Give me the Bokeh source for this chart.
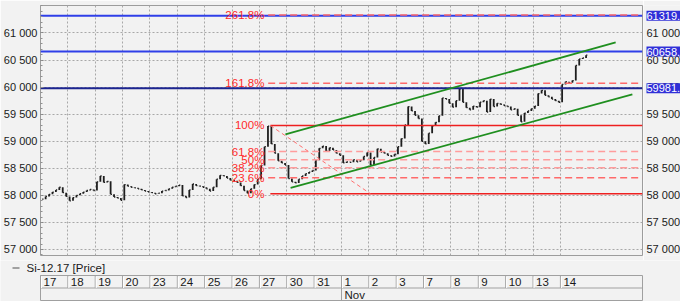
from bokeh.plotting import figure
from bokeh.models import Range1d, FixedTicker
from bokeh.layouts import column, row
from bokeh.embed import file_html
from bokeh.resources import INLINE
from bokeh.core.properties import value

# ---------------- data ----------------
day_labels = ["17", "18", "19", "20", "23", "24", "25", "26", "27", "30",
              "31", "1", "2", "3", "7", "8", "9", "10", "13", "14"]
month_labels = ["Nov"]
month_start_index = [11]

# closing prices of the intraday bars, one list per trading day
closes_by_day = [
    [57930, 57980, 58020, 58060, 58100, 58150, 58050, 57980],   # 17
    [57900, 57960, 58000, 58030, 58060, 58090, 58110, 58090],   # 18
    [58250, 58360, 58240, 58260, 58020, 57970, 57950, 57910],   # 19
    [58200, 58170, 58150, 58140, 58120, 58100, 58080, 58060],   # 20
    [58050, 58030, 58040, 58080, 58090, 58120, 58150, 58170],   # 23
    [58190, 57990, 57960, 58100, 58210, 58180, 58170, 58150],   # 24
    [58120, 58080, 58150, 58300, 58370, 58360, 58320, 58280],   # 25
    [58270, 58240, 58180, 58090, 58040, 58120, 58200, 58300],   # 26
    [58550, 58900, 59280, 58950, 58780, 58640, 58600, 58560],   # 27
    [58310, 58250, 58230, 58300, 58360, 58400, 58430, 58460],   # 30
    [58650, 58870, 58910, 58820, 58880, 58840, 58780, 58740],   # 31
    [58600, 58620, 58610, 58660, 58620, 58650, 58720, 58790],   # 1
    [58560, 58700, 58860, 58800, 58780, 58740, 58720, 58760],   # 2
    [58900, 59050, 59300, 59640, 59560, 59480, 59420, 59000],   # 3
    [58950, 59150, 59280, 59350, 59470, 59800, 59780, 59700],   # 7
    [59630, 59750, 59970, 59720, 59620, 59580, 59650, 59630],   # 8
    [59720, 59750, 59540, 59780, 59640, 59700, 59680, 59660],   # 9
    [59640, 59580, 59600, 59480, 59360, 59520, 59560, 59600],   # 10
    [59650, 59880, 59940, 59850, 59820, 59780, 59750, 59720],   # 13
    [60050, 60100, 60080, 60120, 60400, 60520, 60540, 60590],   # 14
]

y_ticks = [57000, 57500, 58000, 58500, 59000, 59500, 60000, 60500, 61000]

# horizontal price levels (blue lines with marker on the right scale)
hline_prices = [61319, 60658, 59981]
hline_marker_texts = ["61319.", "60658.", "59981."]

# Fibonacci retracement drawn from the swing high to the swing low
fib_low = 58029
fib_high = 59291
fib_ratios = [0.0, 0.236, 0.382, 0.5, 0.618, 1.0, 1.618, 2.618]
fib_texts = ["0%", "23.6%", "38.2%", "50%", "61.8%", "100%", "161.8%", "261.8%"]
fib_anchor_days = [8.40, 12.06]          # day position of high / low anchors

# trend channel (day position, price)
channel_upper_days = [8.95, 21.02]
channel_upper_prices = [59125, 60825]
channel_lower_days = [9.14, 21.63]
channel_lower_prices = [58140, 59864]

x_days_total = 22
y_min, y_max = 56889, 61508

# ---------------- styling ----------------
BG = "#f2f2f2"
FONT = "Liberation Sans"
W = 680
LEFT, RIGHT = 40, 38
MAIN_W = W - RIGHT + 1          # frame ends at x = 642 (1px border inside)
ppd = (MAIN_W - 1 - LEFT) / x_days_total
tick_labels = [f"{t:,}".replace(",", " ") for t in y_ticks]

main = figure(width=MAIN_W, height=260, x_range=Range1d(0, x_days_total),
              y_range=Range1d(y_min, y_max), x_axis_location=None,
              y_axis_location="left", toolbar_location=None,
              output_backend="svg", min_border_left=LEFT,
              min_border_right=1, min_border_top=5, min_border_bottom=5,
              background_fill_color=BG, border_fill_color=BG,
              outline_line_color="#9c9c9c")

minor = list(range(56900, 61600, 100))
yax = main.yaxis[0]
yax.ticker = FixedTicker(ticks=y_ticks, minor_ticks=minor)
yax.major_label_overrides = dict(zip(y_ticks, tick_labels))
yax.axis_line_color = None
yax.major_tick_in = 3
yax.major_tick_out = 0
yax.minor_tick_in = 2
yax.minor_tick_out = 0
yax.major_tick_line_color = "#808080"
yax.minor_tick_line_color = "#909090"
yax.major_label_standoff = 3
yax.major_label_text_font = FONT
yax.major_label_text_font_size = "11px"
yax.major_label_text_color = "#1a1a1a"

main.ygrid.grid_line_color = "#a8a8a8"
main.ygrid.grid_line_dash = "2 2"
main.xgrid[0].ticker = FixedTicker(ticks=list(range(1, len(day_labels))))
main.xgrid.grid_line_color = "#a8a8a8"
main.xgrid.grid_line_dash = "2 2"

# ---------------- price bars ----------------
bx, blo, bhi, bc = [], [], [], []
prev = closes_by_day[0][0]
for d, closes in enumerate(closes_by_day):
    n = len(closes)
    for i, c in enumerate(closes):
        x = d + (i + 0.5) / n
        bx.append(x)
        blo.append(min(prev, c))
        bhi.append(max(prev, c))
        bc.append(c)
        prev = c
tick = 1.3 / ppd
main.segment(x0=bx, y0=blo, x1=bx, y1=bhi, line_color="#1e1e1e", line_width=1.8)
main.segment(x0=bx, y0=bc, x1=[v + tick for v in bx], y1=bc,
             line_color="#1e1e1e", line_width=1.3)

# ---------------- horizontal levels ----------------
hcolors = ["#2f3fe8", "#2f3fe8", "#1c2590"]
for pr, col in zip(hline_prices, hcolors):
    main.line(x=[0, x_days_total], y=[pr, pr], line_color=col, line_width=2)

# ---------------- Fibonacci ----------------
fib_prices = [fib_low + r * (fib_high - fib_low) for r in fib_ratios]
for r, pr in zip(fib_ratios, fib_prices):
    if r in (0.0, 1.0):
        main.line(x=[fib_anchor_days[0], x_days_total], y=[pr, pr],
                  line_color="#ee2020", line_width=1.6)
    else:
        col = "#ff6a6a" if r in (0.236, 1.618, 2.618) else "#ff9c9c"
        main.line(x=[fib_anchor_days[0] - 0.08, x_days_total], y=[pr, pr],
                  line_color=col, line_width=1.5, line_dash="7 4")
main.line(x=fib_anchor_days, y=[fib_high, fib_low], line_color="#ff7070",
          line_width=1, line_dash="4 3")
main.text(x=[fib_anchor_days[0]] * len(fib_prices), y=fib_prices, text=fib_texts,
          text_align="right", text_baseline="middle", x_offset=-6,
          text_color="#ff2a2a", text_font=value(FONT), text_font_size="11.5px")

# ---------------- channel ----------------
main.line(x=channel_upper_days, y=channel_upper_prices, line_color="#1f8f1f", line_width=1.8)
main.line(x=channel_lower_days, y=channel_lower_prices, line_color="#1f8f1f", line_width=1.8)

# ---------------- right price scale (shares the y scale) ----------------
RW = W - MAIN_W
scale = figure(width=RW, height=260, x_range=Range1d(0, RW), y_range=main.y_range,
               toolbar_location=None, output_backend="svg", min_border_left=0,
               min_border_right=0, min_border_top=5, min_border_bottom=5,
               background_fill_color=BG, border_fill_color=BG, outline_line_color=None)
scale.axis.visible = False
scale.grid.visible = False
scale.text(x=[3] * len(y_ticks), y=y_ticks, text=tick_labels, text_baseline="middle",
           text_font=value(FONT), text_font_size="11px", text_color="#1a1a1a")
scale.rect(x=[RW / 2 + 1.5] * len(hline_prices), y=hline_prices, width=RW - 3,
           height=10, height_units="screen", fill_color="#3030d8", line_color=None)
scale.text(x=[3] * len(hline_prices), y=hline_prices, text=hline_marker_texts,
           text_baseline="middle", text_font=value(FONT), text_font_size="11px",
           text_color="white")

# ---------------- date strip below ----------------
sx0 = -LEFT / ppd
sx1 = x_days_total + (W - LEFT - x_days_total * ppd) / ppd
strip = figure(width=W, height=41, x_range=Range1d(sx0, sx1), y_range=Range1d(41, 0),
               toolbar_location=None, output_backend="svg", min_border=0,
               background_fill_color=BG, border_fill_color=BG, outline_line_color=None)
strip.axis.visible = False
strip.grid.visible = False

GRAY = "#a0a0a0"
row_top, row_mid, row_bot = 15, 27.5, 40
strip.segment(x0=[0, 0, 0], y0=[row_top, row_mid, row_bot],
              x1=[x_days_total] * 3, y1=[row_top, row_mid, row_bot],
              line_color=GRAY, line_width=1)
day_pos = list(range(len(day_labels)))
strip.segment(x0=day_pos, y0=[row_top] * len(day_pos), x1=day_pos,
              y1=[row_mid] * len(day_pos), line_color=GRAY, line_width=1)
px1 = 1 / ppd
strip.segment(x0=[d + px1 for d in day_pos], y0=[row_top + 1] * len(day_pos),
              x1=[d + px1 for d in day_pos], y1=[row_mid] * len(day_pos),
              line_color="#ffffff", line_width=1)
strip.segment(x0=[0, x_days_total] + month_start_index, y0=[row_top, row_top] + [row_mid] * len(month_start_index),
              x1=[0, x_days_total] + month_start_index, y1=[row_bot] * (2 + len(month_start_index)),
              line_color=GRAY, line_width=1)
strip.text(x=day_pos, y=[(row_top + row_mid) / 2 + 0.5] * len(day_pos), text=day_labels,
           x_offset=3, text_baseline="middle", text_font=value(FONT),
           text_font_size="11.5px", text_color="#1a1a1a")
strip.text(x=month_start_index, y=[(row_mid + row_bot) / 2 + 0.5] * len(month_labels), text=month_labels,
           x_offset=3, text_baseline="middle", text_font=value(FONT),
           text_font_size="11.5px", text_color="#1a1a1a")
# legend
strip.segment(x0=[sx0 + 12 / ppd], y0=[7.5], x1=[sx0 + 19 / ppd], y1=[7.5],
              line_color="#505050", line_width=1.2)
strip.text(x=[sx0 + 26 / ppd], y=[7.5], text=["Si-12.17 [Price]"], text_baseline="middle",
           text_font=value(FONT), text_font_size="11.5px", text_color="#1a1a1a")

layout = column(row(main, scale, spacing=0), strip, spacing=0)
open("out.html", "w").write(file_html(layout, INLINE))
